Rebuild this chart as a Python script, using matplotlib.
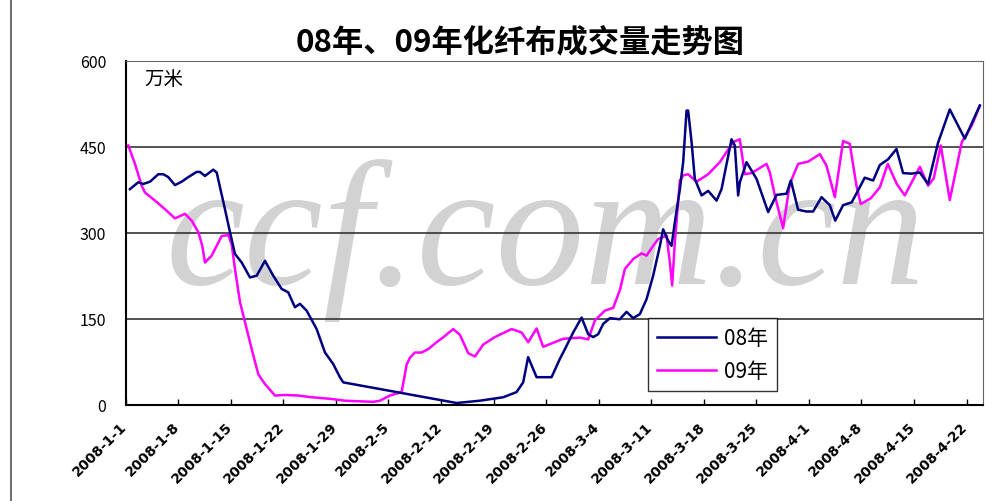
import numpy as np
import matplotlib
matplotlib.use('Agg')
import matplotlib.pyplot as plt
import matplotlib.transforms as mtransforms

plt.rcParams['font.family'] = ['Noto Sans CJK SC', 'DejaVu Sans']

# days since 2008-1-1, values in 万米
days_08 = [0.57, 1.68, 2.34, 3.24, 4.34, 5.0, 5.67, 6.56, 7.46, 8.34, 9.45, 9.89,
           10.56, 11.66, 12.12, 13.22, 13.89, 14.55, 15.45, 16.55, 17.44, 18.55,
           19.65, 20.77, 21.65, 22.54, 23.21, 24.1, 25.43, 26.54, 27.64, 28.53,
           28.97, 44.07, 47.18, 50.28, 52.06, 52.94, 53.6, 54.73, 56.72, 57.83,
           58.5, 59.6, 60.72, 61.6, 62.26, 62.93, 63.6, 64.5, 65.8, 66.71, 67.59,
           68.48, 69.37, 70.25, 71.15, 71.58, 72.25, 72.7, 73.14, 73.81, 74.25,
           74.7, 74.91, 75.37, 75.8, 76.7, 77.58, 78.7, 79.36, 80.69, 81.13,
           81.57, 81.8, 82.69, 84.02, 85.57, 86.68, 88.02, 88.6, 89.56, 90.68,
           91.56, 92.68, 93.78, 94.5, 95.55, 96.7, 97.76, 98.43, 99.55, 100.44,
           101.54, 102.66, 103.54, 104.66, 105.77, 106.87, 108.2, 109.76,
           111.76, 113.76]
vals_08 = [376, 388, 385, 389, 402, 402, 397, 383, 389, 397, 406, 406,
           399, 410, 405, 341, 301, 263, 248, 222, 225, 251,
           225, 202, 196, 170, 176, 164, 132, 91, 71, 48,
           39, 3, 7, 13, 22, 39, 83, 48, 48, 80,
           97, 126, 152, 123, 118, 123, 141, 151, 149, 162, 151,
           158, 184, 225, 277, 306, 286, 277, 318, 376, 423,
           513, 513, 458, 394, 365, 373, 356, 376, 463, 452,
           365, 388, 423, 394, 336, 366, 368, 391, 340, 337,
           337, 362, 348, 321, 348, 353, 379, 396, 391, 418,
           428, 446, 404, 403, 405, 385, 457, 515,
           464, 522]

days_09 = [0.35, 1.24, 2.13, 2.57, 3.9, 5.23, 6.56, 7.9, 8.79, 9.67, 10.2, 10.56,
           11.45, 12.78, 13.66, 14.11, 14.55, 15.22, 15.89, 16.78, 17.66, 18.55,
           19.88, 21.21, 22.98, 24.77, 27.43, 29.2, 32.97, 33.86, 35.19, 36.75,
           37.42, 37.86, 38.52, 39.41, 40.29, 41.41, 42.52, 43.62, 44.51, 45.62,
           46.51, 47.62, 49.17, 51.4, 52.73, 53.61, 54.73, 55.6, 58.27, 60.49,
           61.6, 62.49, 63.82, 64.93, 65.82, 66.49, 67.59, 68.71, 69.37, 70.25,
           70.92, 72.04, 72.48, 72.78, 73.14, 73.5, 73.81, 74.25, 74.91, 76.03,
           77.58, 79.13, 80.9, 81.79, 82.46, 83.36, 85.35, 85.8, 86.46, 87.56,
           88.45, 89.56, 90.89, 92.45, 93.34, 94.45, 95.55, 96.44, 97.33, 97.9,
           99.24, 100.44, 101.5, 102.7, 103.77, 105.77, 106.87, 107.63, 108.56,
           109.76, 111.36, 112.69, 113.76]
vals_09 = [452, 420, 382, 370, 356, 341, 325, 333, 321, 301, 277, 248,
           260, 294, 296, 280, 237, 179, 144, 97, 53, 36,
           16, 17, 16, 13, 10, 7, 5, 7, 16, 22,
           70, 82, 91, 91, 97, 109, 120, 132, 122, 90,
           84, 105, 118, 132, 126, 109, 133, 101, 115, 117,
           114, 147, 164, 169, 200, 237, 254, 264, 260, 277,
           289, 295, 248, 208, 283, 341, 391, 400, 402, 389,
           402, 423, 458, 463, 402, 404, 420, 405, 365, 308,
           385, 420, 424, 437, 417, 362, 460, 455, 382, 350,
           360, 379, 420, 385, 365, 415, 382, 395, 452,
           357, 458, 487, 521]

tick_days = list(range(0, 113, 7))
tick_labels = ['2008-1-1', '2008-1-8', '2008-1-15', '2008-1-22', '2008-1-29',
               '2008-2-5', '2008-2-12', '2008-2-19', '2008-2-26', '2008-3-4',
               '2008-3-11', '2008-3-18', '2008-3-25', '2008-4-1', '2008-4-8',
               '2008-4-15', '2008-4-22']
y_ticks = [0, 150, 300, 450, 600]

fig = plt.figure(figsize=(10.04, 5.02), dpi=100)
ax = fig.add_axes([0.1252, 0.1918, 0.854, 0.6853])

# chart-area border on the left
fig.add_artist(plt.Line2D([0.011, 0.011], [0.0, 1.0], transform=fig.transFigure,
                          color='#555555', lw=1.2))

# watermark
ax.text(0.49, 0.48, 'ccf.com.cn', transform=ax.transAxes, ha='center', va='center',
        family='Liberation Serif', style='italic', fontsize=128, color='#d2d2d2',
        zorder=0)

for yv in y_ticks[1:]:
    ax.axhline(yv, color='#333333', lw=1.2, zorder=1)

ax.plot(days_08, vals_08, color='#000080', lw=1.8, label='08年', zorder=3)
ax.plot(days_09, vals_09, color='#ff00ff', lw=1.8, label='09年', zorder=2)

ax.set_xlim(0, 114.2)
ax.set_ylim(0, 600)
ax.set_yticks(y_ticks)
ax.set_yticklabels([str(v) for v in y_ticks], fontsize=11.5)
ax.set_xticks(tick_days)
ax.set_xticklabels(tick_labels, rotation=45, ha='right', rotation_mode='anchor',
                   fontsize=10, fontweight='bold', family='DejaVu Sans')
ax.tick_params(axis='x', direction='in', length=4, width=1, pad=10)
ax.tick_params(axis='y', length=0, pad=14)
shift = mtransforms.ScaledTranslation(-6 / 100, 0, fig.dpi_scale_trans)
for lab in ax.get_xticklabels():
    lab.set_transform(lab.get_transform() + shift)

ax.spines['left'].set_linewidth(1.5)
ax.spines['bottom'].set_linewidth(1.5)
ax.spines['top'].set_color('#666666')
ax.spines['right'].set_color('#666666')

ax.text(0.022, 0.98, '万米', transform=ax.transAxes, ha='left', va='top', fontsize=14)

leg = ax.legend(loc='upper left', bbox_to_anchor=(0.609, 0.252), fontsize=15,
                frameon=True, fancybox=False, handlelength=2.8, borderpad=0.45,
                labelspacing=0.5, handletextpad=0.4, borderaxespad=0)
leg.get_frame().set_edgecolor('black')
leg.get_frame().set_linewidth(1.0)

fig.text(0.518, 0.915, '08年、09年化纤布成交量走势图', ha='center', va='center',
         fontsize=22.5, fontweight='bold')

plt.savefig('out.png', dpi=100)
